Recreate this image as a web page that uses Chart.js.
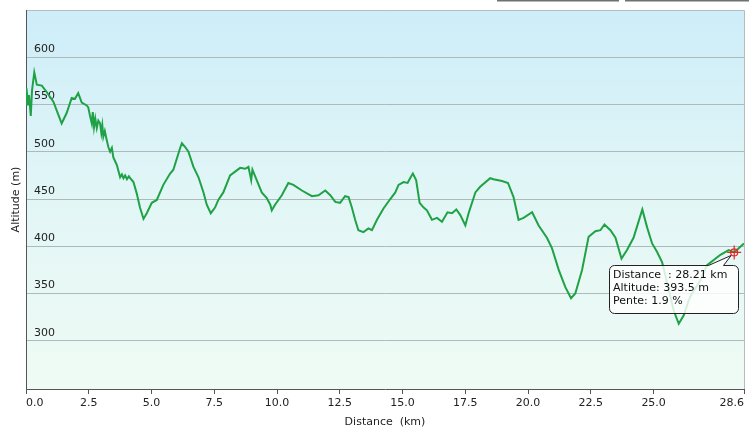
<!DOCTYPE html>
<html>
<head>
<meta charset="utf-8">
<script src="https://cdn.jsdelivr.net/npm/chart.js@4.4.1/dist/chart.umd.min.js"></script>
<style>
  html, body { margin: 0; padding: 0; background: #ffffff; }
  #wrap { width: 749px; height: 432px; }
</style>
</head>
<body>
<div id="wrap"><canvas id="profileChart" width="749" height="432"></canvas></div>
<script>
// Elevation profile values
const distanceKm = [
  0.0, 0.02, 0.08, 0.12, 0.19, 0.24, 0.33, 0.43, 0.63, 0.83, 1.09, 1.42, 1.62, 1.82, 1.95, 2.08,
  2.22, 2.42, 2.48, 2.55, 2.62, 2.66, 2.71, 2.76, 2.82, 2.88, 2.95, 3.0, 3.04, 3.08, 3.14, 3.22,
  3.28, 3.35, 3.42, 3.48, 3.55, 3.62, 3.68, 3.75, 3.82, 3.88, 3.95, 4.02, 4.1, 4.15, 4.28, 4.41,
  4.54, 4.68, 4.81, 5.01, 5.21, 5.47, 5.74, 5.87, 6.14, 6.21, 6.34, 6.47, 6.67, 6.87, 7.07, 7.2,
  7.36, 7.53, 7.66, 7.86, 8.13, 8.33, 8.53, 8.73, 8.86, 8.97, 9.02, 9.19, 9.39, 9.59, 9.73, 9.79,
  9.92, 10.19, 10.45, 10.65, 10.99, 11.39, 11.65, 11.92, 12.12, 12.32, 12.51, 12.71, 12.85, 12.98, 13.11, 13.24,
  13.44, 13.64, 13.78, 13.98, 14.24, 14.51, 14.71, 14.84, 15.04, 15.2, 15.3, 15.41, 15.54, 15.68, 15.84, 15.97,
  16.17, 16.37, 16.57, 16.79, 16.97, 17.14, 17.3, 17.5, 17.63, 17.9, 18.09, 18.49, 18.62, 18.96, 19.2, 19.42,
  19.62, 19.82, 20.16, 20.42, 20.75, 20.95, 21.22, 21.48, 21.71, 21.88, 22.15, 22.41, 22.68, 22.88, 23.04, 23.28,
  23.48, 23.72, 23.94, 24.2, 24.55, 24.74, 24.94, 25.14, 25.34, 25.54, 25.8, 26.0, 26.2, 26.4, 26.53, 26.8,
  27.13, 27.66, 27.99, 28.21, 28.39, 28.6
];
const altitudeM = [
  550, 567, 549, 560, 538, 565, 584, 571, 570, 563, 553, 530, 541, 557, 556, 562,
  552, 549, 547, 538, 530, 542, 526, 535, 525, 533, 530, 520, 528, 516, 522, 512,
  505, 500, 504, 494, 490, 486, 480, 473, 476, 472, 475, 471, 474, 472, 468, 456,
  441, 429, 435, 446, 449, 465, 477, 481, 504, 509, 505, 500, 484, 473, 457, 444,
  435, 441, 449, 457, 475, 479, 483, 482, 484, 470, 481, 470, 457, 451, 444, 438,
  444, 454, 467, 465, 459, 453, 454, 459, 454, 447, 446, 453, 452, 441, 428, 417,
  415, 419, 417, 428, 440, 450, 457, 465, 468, 467, 472, 477, 470, 446, 441, 438,
  428, 430, 426, 436, 435, 439, 433, 422, 435, 457, 463, 472, 471, 469, 467, 452,
  428, 430, 436, 422, 409, 398, 375, 357, 345, 350, 375, 410, 416, 417, 423, 417,
  409, 387, 396, 409, 439, 420, 403, 394, 383, 361, 332, 318, 327, 343, 350, 361,
  380, 391, 396, 393.5, 398, 403
];
const xTickValues = [0, 2.5, 5, 7.5, 10, 12.5, 15, 17.5, 20, 22.5, 25, 28.6];
const yTickValues = [300, 350, 400, 450, 500, 550, 600];

// Cursor readout shown in the callout
const cursorDistance = 28.21;
const cursorAltitude = 393.5;
const cursorSlope = 1.9;

const uiFont = 'Tahoma, "DejaVu Sans", sans-serif';

// Gradient behind the plot area + frame
const plotBackground = {
  id: 'plotBackground',
  beforeDraw(chart) {
    const { ctx, chartArea: a } = chart;
    const g = ctx.createLinearGradient(0, a.top, 0, a.bottom);
    g.addColorStop(0, '#cdedf9');
    g.addColorStop(0.5, '#e2f6f6');
    g.addColorStop(1, '#effbf4');
    ctx.save();
    ctx.fillStyle = g;
    ctx.fillRect(a.left, a.top, a.right - a.left, a.bottom - a.top);
    // top and right frame
    ctx.strokeStyle = '#b4bcc0';
    ctx.lineWidth = 1;
    ctx.beginPath();
    ctx.moveTo(a.left, a.top + 0.5);
    ctx.lineTo(a.right + 0.5, a.top + 0.5);
    ctx.lineTo(a.right + 0.5, a.bottom);
    ctx.stroke();
    // bits of the toolbar cut off at the top edge
    ctx.fillStyle = '#707070';
    ctx.fillRect(497, 0, 122, 1.5);
    ctx.fillRect(625, 0, 124, 1.5);
    ctx.restore();
  }
};

// Red cursor and the callout box
const cursorCallout = {
  id: 'cursorCallout',
  afterDatasetsDraw(chart) {
    const { ctx, scales } = chart;
    const px = scales.x.getPixelForValue(cursorDistance);
    const py = scales.y.getPixelForValue(cursorAltitude);

    ctx.save();
    // callout box
    const bx = 609.5, by = 265.5, bw = 129, bh = 48, r = 5;
    ctx.beginPath();
    ctx.moveTo(bx + r, by);
    ctx.lineTo(bx + 99, by);
    ctx.lineTo(px - 3, py + 3);
    ctx.lineTo(bx + 114, by);
    ctx.lineTo(bx + bw - r, by);
    ctx.arcTo(bx + bw, by, bx + bw, by + r, r);
    ctx.lineTo(bx + bw, by + bh - r);
    ctx.arcTo(bx + bw, by + bh, bx + bw - r, by + bh, r);
    ctx.lineTo(bx + r, by + bh);
    ctx.arcTo(bx, by + bh, bx, by + bh - r, r);
    ctx.lineTo(bx, by + r);
    ctx.arcTo(bx, by, bx + r, by, r);
    ctx.closePath();
    ctx.fillStyle = 'rgba(255,255,255,0.82)';
    ctx.fill();
    ctx.strokeStyle = '#222222';
    ctx.lineWidth = 1;
    ctx.stroke();

    ctx.fillStyle = '#111111';
    ctx.font = '11px ' + uiFont;
    ctx.textBaseline = 'middle';
    ctx.textAlign = 'left';
    ctx.fillText('Distance  : ' + cursorDistance.toFixed(2) + ' km', 613, 275);
    ctx.fillText('Altitude: ' + cursorAltitude.toFixed(1) + ' m', 613, 288);
    ctx.fillText('Pente: ' + cursorSlope.toFixed(1) + ' %', 613, 301);

    // red crosshair
    ctx.strokeStyle = '#e02828';
    ctx.lineWidth = 1.2;
    ctx.beginPath();
    ctx.arc(px, py, 3.5, 0, Math.PI * 2);
    ctx.moveTo(px - 7, py); ctx.lineTo(px + 7, py);
    ctx.moveTo(px, py - 7); ctx.lineTo(px, py + 7);
    ctx.stroke();
    ctx.restore();
  }
};

const ctx = document.getElementById('profileChart').getContext('2d');
new Chart(ctx, {
  type: 'line',
  data: {
    datasets: [{
      data: distanceKm.map((d, i) => ({ x: d, y: altitudeM[i] })),
      borderColor: '#1fa245',
      borderWidth: 2,
      pointRadius: 0,
      tension: 0,
      fill: false
    }]
  },
  options: {
    responsive: false,
    animation: false,
    layout: { padding: { top: 10, right: 5, left: 0, bottom: 0 } },
    plugins: {
      legend: { display: false },
      tooltip: { enabled: false }
    },
    scales: {
      x: {
        type: 'linear',
        min: 0,
        max: 28.6,
        afterBuildTicks: scale => { scale.ticks = xTickValues.map(v => ({ value: v })); },
        afterFit: scale => { scale.height = 43; scale.paddingLeft = 0; scale.paddingRight = 0; },
        grid: { drawOnChartArea: false, tickLength: 5, color: '#555555' },
        border: { color: '#555555', width: 1 },
        ticks: {
          align: 'inner',
          padding: 3,
          color: '#222222',
          font: { family: uiFont, size: 11 },
          callback: v => v.toFixed(1)
        },
        title: {
          display: true,
          text: 'Distance  (km)',
          color: '#222222',
          font: { family: uiFont, size: 11 },
          padding: { top: 0, bottom: 3 }
        }
      },
      y: {
        min: 249,
        max: 650,
        afterBuildTicks: scale => { scale.ticks = yTickValues.map(v => ({ value: v })); },
        afterFit: scale => { scale.width = 26; scale.paddingTop = 0; scale.paddingBottom = 0; },
        grid: { drawTicks: false, color: '#aeb9be', lineWidth: 1 },
        border: { color: '#555555', width: 1 },
        ticks: {
          mirror: true,
          padding: 8,
          labelOffset: -8,
          color: '#222222',
          font: { family: uiFont, size: 11 }
        },
        title: {
          display: true,
          text: 'Altitude (m)',
          color: '#222222',
          font: { family: uiFont, size: 11 },
          padding: { top: 10, bottom: 0 }
        }
      }
    }
  },
  plugins: [plotBackground, cursorCallout]
});
</script>
</body>
</html>
